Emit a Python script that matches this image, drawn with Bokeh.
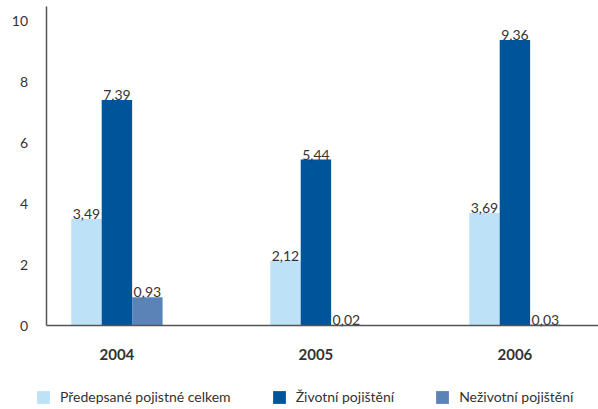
from bokeh.plotting import figure
from bokeh.models import Range1d, FixedTicker, ColumnDataSource, Legend, LegendItem
from bokeh.transform import dodge
from bokeh.core.properties import value
from bokeh.embed import file_html
from bokeh.resources import INLINE

years = ["2004", "2005", "2006"]
series = ["Předepsané pojistné celkem", "Životní pojištění", "Neživotní pojištění"]
celkem = [3.49, 2.12, 3.69]
zivotni = [7.39, 5.44, 9.36]
nezivotni = [0.93, 0.02, 0.03]
colors = ["#BDE1F6", "#00559A", "#5B83B7"]
y_ticks = [0, 2, 4, 6, 8, 10]

FONT = "Lato"
BAR_W = 0.153
X0, X1 = -0.585, 2.420      # horizontal extent of the frame (group units)
Y_AXIS_AT = -0.356          # where the value axis is drawn
Y0, Y1 = -2.754, 10.656     # vertical extent of the frame (value units)
Y_TOP = 10.46               # top end of the value axis line

p = figure(width=598, height=409, output_backend="svg", toolbar_location=None,
           x_range=Range1d(X0, X1), y_range=Range1d(Y0, Y1),
           min_border_left=0, min_border_right=0, min_border_top=0, min_border_bottom=0)
p.outline_line_color = None
p.xgrid.visible = False
p.ygrid.visible = False

yax = p.yaxis[0]
yax.fixed_location = Y_AXIS_AT
yax.bounds = (0, Y_TOP)
yax.ticker = FixedTicker(ticks=y_ticks)
yax.axis_line_color = "#555555"
yax.axis_line_width = 1.5
yax.major_tick_line_color = None
yax.minor_tick_line_color = None
yax.major_label_text_font = FONT
yax.major_label_text_font_size = "14px"
yax.major_label_text_color = "#333333"
yax.major_label_standoff = 12

groups = list(range(len(years)))
xax = p.xaxis[0]
xax.fixed_location = 0
xax.bounds = (Y_AXIS_AT, X1)
xax.ticker = FixedTicker(ticks=groups)
xax.major_label_overrides = {g: y for g, y in zip(groups, years)}
xax.axis_line_color = "#555555"
xax.axis_line_width = 1.5
xax.major_tick_line_color = None
xax.minor_tick_line_color = None
xax.major_label_text_font = FONT
xax.major_label_text_font_size = "15px"
xax.major_label_text_font_style = "bold"
xax.major_label_text_color = "#333333"
xax.major_label_standoff = 17

fmt = lambda v: f"{v:.2f}".replace(".", ",")
src = ColumnDataSource(dict(
    g=groups,
    c=celkem, z=zivotni, n=nezivotni,
    ct=[fmt(v) for v in celkem], zt=[fmt(v) for v in zivotni], nt=[fmt(v) for v in nezivotni],
))

items = []
for off, col, tcol, color, name in [(-BAR_W, "c", "ct", colors[0], series[0]),
                                    (0.0, "z", "zt", colors[1], series[1]),
                                    (BAR_W, "n", "nt", colors[2], series[2])]:
    r = p.vbar(x=dodge("g", off), top=col, width=BAR_W, source=src,
               fill_color=color, line_color=None)
    p.text(x=dodge("g", off), y=col, text=tcol, source=src,
           text_align="center", text_baseline="bottom",
           text_font=value(FONT), text_font_size="14px", text_color="#333333")
    items.append(LegendItem(label=name, renderers=[r]))

legend = Legend(items=items, orientation="horizontal", location=(35, 4),
                glyph_width=16, glyph_height=16, label_standoff=9, spacing=40,
                padding=0, margin=0, border_line_color=None, background_fill_alpha=0,
                label_text_font=FONT, label_text_font_size="14px", label_text_color="#333333")
p.add_layout(legend, "center")

open("out.html", "w").write(file_html(p, INLINE))
